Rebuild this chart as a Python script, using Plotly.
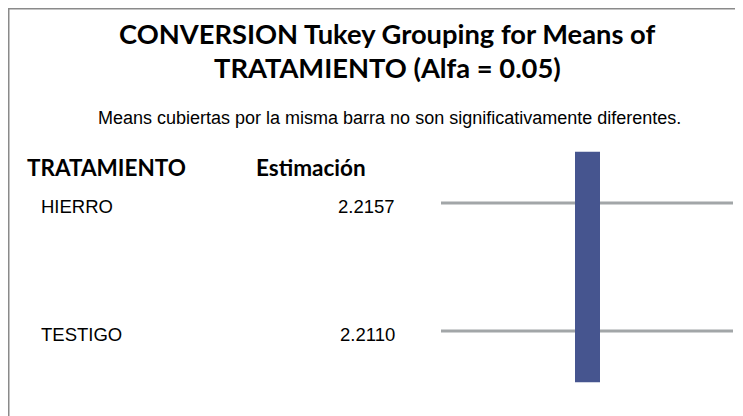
import plotly.graph_objects as go

title_lines = ["CONVERSION Tukey Grouping for Means of", "TRATAMIENTO (Alfa = 0.05)"]
subtitle = "Means cubiertas por la misma barra no son significativamente diferentes."
col_headers = ["TRATAMIENTO", "Estimación"]
treatments = ["HIERRO", "TESTIGO"]
estimates = [2.2157, 2.2110]
group_members = [0, 1]  # treatments covered by the single Tukey bar

W, H = 743, 416
y0_px, step_px = 195, 128
yr = [(H - y0_px) / step_px, (0 - y0_px) / step_px]

TITLE_FONT = "Lato"
BODY_FONT = "Liberation Sans"

fig = go.Figure()
idx = list(range(len(treatments)))
for i in idx:
    fig.add_trace(go.Scatter(x=[433, 725], y=[i, i], mode="lines",
                             line=dict(color="#a2a6a8", width=3), hoverinfo="skip",
                             showlegend=False))
fig.add_trace(go.Scatter(x=[579.5, 579.5], y=[min(group_members) - 0.4, max(group_members) + 0.4],
                         mode="lines", line=dict(color="#46558f", width=25),
                         hoverinfo="skip", showlegend=False))


def py(px):
    return 1 - px / H


ann = []
ann.append(dict(text="<b>" + title_lines[0] + "</b>", x=379 / W, y=py(25),
                xref="paper", yref="paper", showarrow=False, xanchor="center", yanchor="middle",
                font=dict(family=TITLE_FONT, size=27.3, color="#000")))
ann.append(dict(text="<b>" + title_lines[1] + "</b>", x=379 / W, y=py(60),
                xref="paper", yref="paper", showarrow=False, xanchor="center", yanchor="middle",
                font=dict(family=TITLE_FONT, size=27.3, color="#000")))
ann.append(dict(text=subtitle, x=381 / W, y=py(110), xref="paper", yref="paper", showarrow=False,
                xanchor="center", yanchor="middle",
                font=dict(family=BODY_FONT, size=18, color="#000")))
ann.append(dict(text="<b>" + col_headers[0] + "</b>", x=17 / W, y=py(159), xref="paper", yref="paper",
                showarrow=False, xanchor="left", yanchor="middle",
                font=dict(family=TITLE_FONT, size=22.5, color="#000")))
ann.append(dict(text="<b>" + col_headers[1] + "</b>", x=246 / W, y=py(159), xref="paper", yref="paper",
                showarrow=False, xanchor="left", yanchor="middle",
                font=dict(family=TITLE_FONT, size=22.5, color="#000")))
for i, (t, e) in enumerate(zip(treatments, estimates)):
    ann.append(dict(text=t, x=31, y=i + 0.027, xref="x", yref="y", showarrow=False, xanchor="left",
                    yanchor="middle", font=dict(family=BODY_FONT, size=18.5, color="#000")))
    ann.append(dict(text=f"{e:.4f}", x=389, y=i + 0.027, xref="x", yref="y", showarrow=False,
                    xanchor="right", yanchor="middle",
                    font=dict(family=BODY_FONT, size=18.5, color="#000")))

shapes = [
    dict(type="line", xref="paper", yref="paper", x0=0, x1=1, y0=py(0.5), y1=py(0.5),
         line=dict(color="#8a8a8a", width=2)),
    dict(type="line", xref="paper", yref="paper", x0=0.5 / W, x1=0.5 / W, y0=1, y1=0,
         line=dict(color="#8a8a8a", width=2)),
]

fig.update_layout(width=W, height=H, margin=dict(l=0, r=0, t=0, b=0),
                  paper_bgcolor="white", plot_bgcolor="white",
                  xaxis=dict(range=[0, W], visible=False, fixedrange=True),
                  yaxis=dict(range=yr, visible=False, fixedrange=True),
                  annotations=ann, shapes=shapes)
fig.write_html("out.html")
